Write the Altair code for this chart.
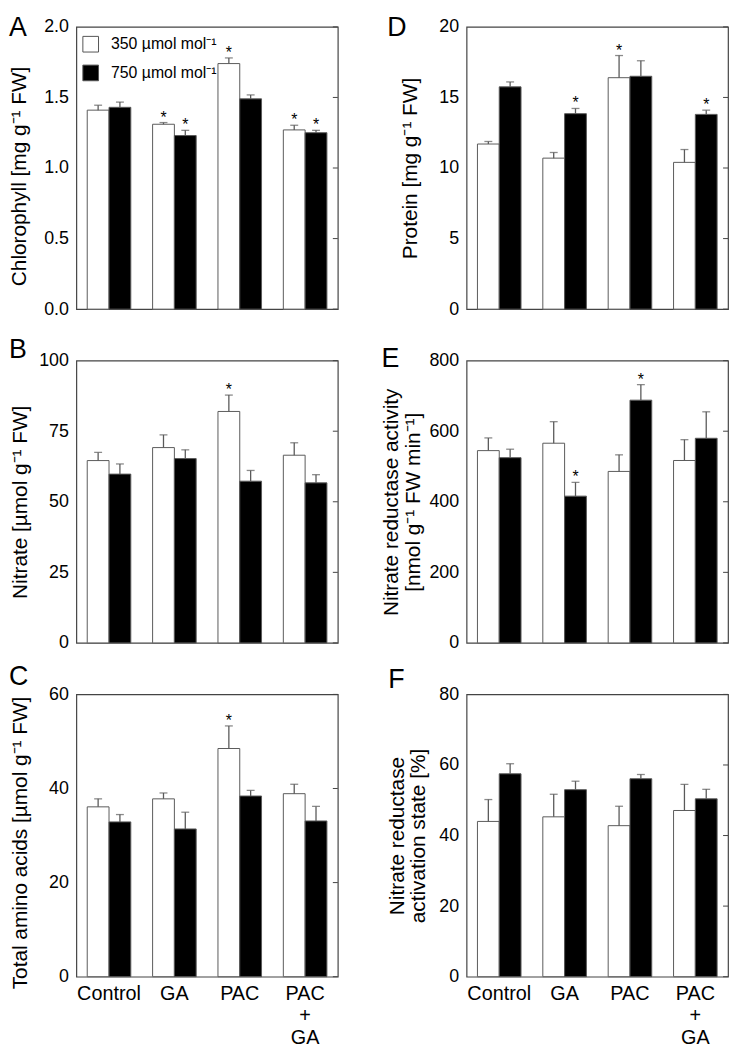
import altair as alt
import pandas as pd

groups = ["Control", "GA", "PAC", "PAC+GA"]
levels = ["350 µmol mol⁻¹", "750 µmol mol⁻¹"]

# Panel A: Chlorophyll
chl_350 = [1.41, 1.31, 1.74, 1.27]
chl_350_se = [0.035, 0.012, 0.04, 0.033]
chl_350_sig = ["", "*", "*", "*"]
chl_750 = [1.43, 1.23, 1.49, 1.25]
chl_750_se = [0.037, 0.037, 0.028, 0.017]
chl_750_sig = ["", "*", "", "*"]

# Panel B: Nitrate
nit_350 = [64.6, 69.2, 82.0, 66.5]
nit_350_se = [2.9, 4.5, 5.8, 4.4]
nit_350_sig = ["", "", "*", ""]
nit_750 = [59.8, 65.3, 57.3, 56.7]
nit_750_se = [3.6, 3.1, 3.8, 2.9]
nit_750_sig = ["", "", "", ""]

# Panel C: Total amino acids
aa_350 = [36.1, 37.8, 48.5, 38.9]
aa_350_se = [1.7, 1.25, 4.8, 2.0]
aa_350_sig = ["", "", "*", ""]
aa_750 = [32.9, 31.4, 38.4, 33.1]
aa_750_se = [1.56, 3.56, 1.2, 3.1]
aa_750_sig = ["", "", "", ""]

# Panel D: Protein
pro_350 = [11.7, 10.7, 16.4, 10.4]
pro_350_se = [0.18, 0.4, 1.57, 0.91]
pro_350_sig = ["", "", "*", ""]
pro_750 = [15.75, 13.85, 16.5, 13.8]
pro_750_se = [0.35, 0.37, 1.1, 0.3]
pro_750_sig = ["", "*", "", "*"]

# Panel E: Nitrate reductase activity
nra_350 = [545, 566, 486, 517]
nra_350_se = [36, 61, 47, 59]
nra_350_sig = ["", "", "", ""]
nra_750 = [525, 416, 688, 580]
nra_750_se = [24, 39, 44, 75]
nra_750_sig = ["", "*", "*", ""]

# Panel F: Nitrate reductase activation state
nas_350 = [44.0, 45.3, 42.8, 47.1]
nas_350_se = [6.2, 6.4, 5.5, 7.4]
nas_350_sig = ["", "", "", ""]
nas_750 = [57.5, 53.0, 56.1, 50.4]
nas_750_se = [2.85, 2.4, 1.2, 2.7]
nas_750_sig = ["", "", "", ""]

FONT = "Liberation Sans"
W, H = 264, 285
GRAY = "#5a5a5a"
FRAME = "#444444"


def make_df(m1, s1, g1, m2, s2, g2):
    rows = []
    for i, g in enumerate(groups):
        rows.append({"g": g, "co2": levels[0], "mean": m1[i], "top": m1[i] + s1[i], "sig": g1[i]})
        rows.append({"g": g, "co2": levels[1], "mean": m2[i], "top": m2[i] + s2[i], "sig": g2[i]})
    return pd.DataFrame(rows)


def panel(df, letter, title, ymax, ticks, fmt, title_x, title_dy, bottom, legend, lx, ly):
    xscale = alt.Scale(domain=groups, paddingInner=1 / 3, paddingOuter=1 / 6)
    yscale = alt.Scale(domain=[0, ymax], nice=False, zero=True)
    if bottom:
        xaxis = alt.Axis(title=None, labels=True, ticks=False, tickSize=0, domain=False, grid=False,
                         labelAngle=0, labelFontSize=20, labelPadding=7, labelLineHeight=22,
                         labelColor="black", labelFont=FONT,
                         labelExpr="datum.label == 'PAC+GA' ? ['PAC', '+', 'GA'] : datum.label")
    else:
        xaxis = None
    x = alt.X("g:N", scale=xscale, axis=xaxis, sort=groups)
    xo = alt.XOffset("co2:N", scale=alt.Scale(domain=levels, paddingInner=0, paddingOuter=0), sort=levels)
    yaxis = alt.Axis(title=title, values=ticks, format=fmt, ticks=False, tickSize=0, domain=False,
                     grid=False, labelFontSize=18, labelPadding=8, labelColor="black", labelFont=FONT,
                     titleFontSize=21, titleFont=FONT, titleFontWeight="normal", titleColor="black",
                     titleX=title_x, titleY=H / 2 + title_dy, titleAlign="center", titleAngle=270,
                     titleBaseline="middle", titleLineHeight=22)
    if legend:
        leg = alt.Legend(title=None, orient="none", legendX=6, legendY=9, symbolType="square",
                         symbolSize=250, symbolStrokeColor="#555555", symbolStrokeWidth=1,
                         labelFontSize=16, labelFont=FONT, labelColor="black", rowPadding=8,
                         labelOffset=12, padding=0)
    else:
        leg = None
    fill = alt.Fill("co2:N", scale=alt.Scale(domain=levels, range=["white", "black"]), legend=leg)

    bars = alt.Chart().mark_bar(stroke=GRAY, strokeWidth=1).encode(
        x=x, xOffset=xo, y=alt.Y("mean:Q", scale=yscale, axis=yaxis), fill=fill)
    stem = alt.Chart().mark_rule(color=GRAY, strokeWidth=1.3).encode(
        x=x, xOffset=xo, y=alt.Y("mean:Q", scale=yscale, axis=yaxis), y2="top:Q")
    cap = alt.Chart().mark_tick(color=GRAY, thickness=1.3, size=8, orient="horizontal").encode(
        x=x, xOffset=xo, y=alt.Y("top:Q", scale=yscale, axis=yaxis))
    star = alt.Chart().mark_text(fontSize=16, font=FONT, baseline="bottom", dy=3, color="black").encode(
        x=x, xOffset=xo, y=alt.Y("top:Q", scale=yscale, axis=yaxis), text="sig:N")
    tick_df = pd.DataFrame({"v": ticks})
    rticks = alt.Chart(tick_df).mark_rule(color=FRAME, strokeWidth=1).encode(
        y=alt.Y("v:Q", scale=yscale, axis=yaxis), x=alt.value(W - 5), x2=alt.value(W))
    lab = alt.Chart(pd.DataFrame({"t": [letter]})).mark_text(
        fontSize=27, font=FONT, align="left", baseline="top", color="black").encode(
        text="t:N", x=alt.value(lx), y=alt.value(ly))
    return alt.layer(alt.layer(bars, stem, cap, star, data=df), rticks, lab).properties(width=W, height=H)


pA = panel(make_df(chl_350, chl_350_se, chl_350_sig, chl_750, chl_750_se, chl_750_sig),
           "A", "Chlorophyll [mg g⁻¹ FW]", 2.0, [0, 0.5, 1.0, 1.5, 2.0], ".1f", -57, 8, False, True, -68, -12)
pB = panel(make_df(nit_350, nit_350_se, nit_350_sig, nit_750, nit_750_se, nit_750_sig),
           "B", "Nitrate [µmol g⁻¹ FW]", 100, [0, 25, 50, 75, 100], "d", -56, 0, False, False, -68, -24)
pC = panel(make_df(aa_350, aa_350_se, aa_350_sig, aa_750, aa_750_se, aa_750_sig),
           "C", "Total amino acids [µmol g⁻¹ FW]", 60, [0, 20, 40, 60], "d", -56, 7, True, False, -68, -31)
pD = panel(make_df(pro_350, pro_350_se, pro_350_sig, pro_750, pro_750_se, pro_750_sig),
           "D", "Protein [mg g⁻¹ FW]", 20, [0, 5, 10, 15, 20], "d", -57, 0, False, False, -80, -12)
pE = panel(make_df(nra_350, nra_350_se, nra_350_sig, nra_750, nra_750_se, nra_750_sig),
           "E", ["Nitrate reductase activity", "[nmol g⁻¹ FW min⁻¹]"], 800, [0, 200, 400, 600, 800], "d",
           -76, 0, False, False, -86, -15)
pF = panel(make_df(nas_350, nas_350_se, nas_350_sig, nas_750, nas_750_se, nas_750_sig),
           "F", ["Nitrate reductase", "activation state [%]"], 80, [0, 20, 40, 60, 80], "d",
           -70, 0, True, False, -79, -27)

chart = alt.concat(pA, pD, pB, pE, pC, pF, columns=2, spacing={"row": 52, "column": 130},
                   bounds="flush").resolve_scale(
    fill="independent").resolve_legend(fill="independent").properties(
    padding={"left": 0, "top": 0, "right": 0, "bottom": 0}
).configure(font=FONT, background="white").configure_view(
    stroke=FRAME, strokeWidth=1.2).configure_axis(grid=False)

chart.save("out.html", embed_options={"renderer": "svg", "actions": False})
